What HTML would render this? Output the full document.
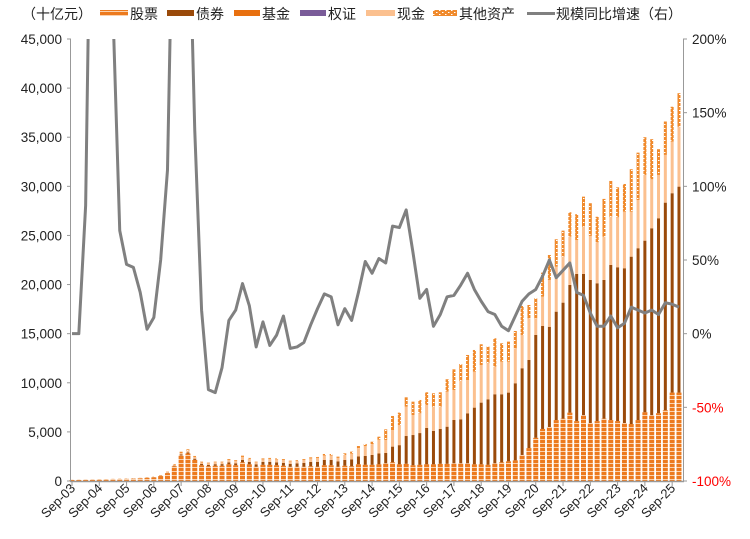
<!DOCTYPE html>
<html><head><meta charset="utf-8">
<style>
body{margin:0;background:#fff;}
svg{display:block;font-family:"Liberation Sans","Noto Sans CJK SC",sans-serif;}
</style></head>
<body>
<svg id="chart" width="750" height="539" viewBox="0 0 750 539" xmlns="http://www.w3.org/2000/svg">
<defs>
<pattern id="pStock" patternUnits="userSpaceOnUse" width="6" height="4"><rect width="6" height="4" fill="#FBD2AE"/><rect x="0" y="0" width="6" height="3" fill="#EC7A1E"/></pattern>
<pattern id="pOther" patternUnits="userSpaceOnUse" width="6" height="4"><rect width="6" height="4" fill="#F08A2C"/><rect x="1" y="2" width="1.5" height="1" fill="#fff"/><rect x="4" y="0" width="1.5" height="1" fill="#fff"/></pattern>
<clipPath id="plotClip"><rect x="70" y="39" width="614" height="443"/></clipPath>
</defs>
<g id="legend" font-size="14" fill="#222">
<text x="22" y="19">（十亿元）</text>
<g><rect x="100" y="10" width="28" height="6" fill="url(#pStock)"/><text x="130" y="19">股票</text></g>
<g><rect x="167" y="10" width="27" height="6" fill="#9A4A0A"/><text x="196" y="19">债券</text></g>
<g><rect x="234" y="10" width="26" height="6" fill="#E8700F"/><text x="262" y="19">基金</text></g>
<g><rect x="300" y="10" width="26" height="6" fill="#7A5C99"/><text x="328" y="19">权证</text></g>
<g><rect x="366" y="10" width="29" height="6" fill="#FBC08F"/><text x="397" y="19">现金</text></g>
<g><rect x="433" y="10" width="24" height="6" fill="url(#pOther)"/><text x="459" y="19">其他资产</text></g>
<g><rect x="527" y="12" width="28" height="3" fill="#808080"/><text x="556" y="19">规模同比增速（右）</text></g>
</g>
<g id="bars"></g>
<g id="line" clip-path="url(#plotClip)"></g>
<g id="axes"></g>
</svg>
<script>
const labels = ["Sep-03","Sep-04","Sep-05","Sep-06","Sep-07","Sep-08","Sep-09","Sep-10","Sep-11","Sep-12","Sep-13","Sep-14","Sep-15","Sep-16","Sep-17","Sep-18","Sep-19","Sep-20","Sep-21","Sep-22","Sep-23","Sep-24","Sep-25"];
const leftTicks = [0,5000,10000,15000,20000,25000,30000,35000,40000,45000];
const rightTicks = [-100,-50,0,50,100,150,200];
const stock = [100,110,130,140,150,170,190,200,220,240,270,320,
370,500,800,1500,2600,2800,2150,1600,
1500,1550,1550,1700,1600,1900,1700,1450,1650,1650,1600,1550,1450,1450,1450,1500,1450,1600,1600,1450,1550,1500,1700,1650,1650,1700,
1800,1900,1700,1750,1600,1650,1700,1700,1750,1750,1800,1800,1800,1700,1700,1650,1800,1900,2000,2100,2650,3350,4400,5300,5500,6200,6350,6960,6100,6700,5900,6100,6350,6200,6100,5900,5800,6200,7000,6700,6900,7200,9000,9000];
const bond = [5,5,5,5,5,5,5,10,10,10,10,15,20,30,40,60,100,110,120,130,
150,160,170,200,200,250,250,250,300,300,300,300,300,350,400,450,500,550,550,550,600,700,800,900,1000,1100,
1050,1600,1950,2830,3080,3230,3700,3400,3550,3780,4410,4480,5090,5770,6280,6670,7030,6930,7000,7850,8830,8970,10470,10480,10200,11040,11810,13000,14980,14380,14570,14030,14120,15800,15660,15760,17040,17500,17470,19030,19850,21140,20300,20970];
const cash = [5,5,5,5,10,10,10,10,10,10,15,20,20,30,60,100,150,180,180,150,
150,200,180,250,250,300,300,200,250,300,300,300,250,250,300,350,400,450,450,350,500,600,850,1000,1100,1400,
1330,1690,2050,2990,2040,2010,2340,2470,2270,3570,3060,3920,3390,3660,3830,3670,2810,3320,3150,3560,3390,4250,1700,2990,4770,4580,4680,4920,3460,4820,4480,4170,4410,4900,5090,5760,4580,4910,6690,4990,4410,4860,5250,6110];
const other = [10,10,10,10,15,15,15,20,20,20,25,25,30,40,50,70,130,140,100,90,
70,60,70,90,80,130,100,70,100,100,100,90,70,80,90,110,100,150,150,130,170,190,210,220,250,310,
1080,1430,1260,950,1360,1360,1290,1360,1460,1260,2100,1710,2550,2210,2110,1690,2890,1870,2040,1760,2950,1350,2030,2440,2540,2790,2650,2480,2620,3050,3330,2600,3840,3650,3050,2820,4320,4820,3840,4080,2620,3400,3550,3400];
const growth = [0,0,87,400,420,380,220,70,47,45,28,3,11,50,111,350,400,320,138,16,
-38,-40,-23,9,16,34,19,-9,8,-8,-1,12,-10,-9,-6,6,17,27,25,6,17,9,28,49,41,51,
48,73,72,84,55,24,30,5,13,25,26,33,41,30,22,15,13,5,2,12,22,27,30,39,50,38,43,48,28,26,14,5,5,12,4,7,18,16,14,16,13,21,20,18];

const NS="http://www.w3.org/2000/svg";
const X0=72, DX=6.82, YB=481, YT=39;
const xPos = i => X0 + i*DX;
const yL = v => YB - v/45000*(YB-YT);
const yR = p => YB - (p+100)/300*(YB-YT);
function mk(tag, attrs, parent){const e=document.createElementNS(NS,tag);for(const k in attrs)e.setAttribute(k,attrs[k]);parent.appendChild(e);return e;}
const bars=document.getElementById('bars');
const series=[[stock,'url(#pStock)',5,'stock'],[bond,'#9A4A0A',3,'bond'],[cash,'#FBC08F',3,'cash'],[other,'url(#pOther)',3,'other']];
for(let i=0;i<stock.length;i++){
  let base=0;
  for(const [arr,fill,w,nm] of series){
    const v=arr[i];
    const y1=yL(base+v), y0=yL(base);
    const r=mk('rect',{x:(xPos(i)-w/2).toFixed(2),y:y1.toFixed(2),width:w,height:Math.max(0,y0-y1).toFixed(2),fill:fill},bars);
    
    
    base+=v;
  }
}
const pts=growth.map((p,i)=>xPos(i).toFixed(2)+','+yR(p).toFixed(2)).join(' ');
const pl=mk('polyline',{points:pts,fill:'none',stroke:'#808080','stroke-width':3,'stroke-linejoin':'round'},document.getElementById('line'));


const ax=document.getElementById('axes');
mk('line',{x1:70.5,y1:YT,x2:70.5,y2:YB,stroke:'#999','stroke-width':1},ax);
mk('line',{x1:683.5,y1:YT,x2:683.5,y2:YB,stroke:'#999','stroke-width':1},ax);
mk('line',{x1:70,y1:481.5,x2:684,y2:481.5,stroke:'#999','stroke-width':1.5},ax);
leftTicks.forEach(v=>{
  const y=yL(v);
  mk('line',{x1:67,y1:y,x2:71,y2:y,stroke:'#999'},ax);
  const t=mk('text',{x:62,y:y+5,'text-anchor':'end','font-size':13.5,fill:'#222'},ax);
  t.textContent=v.toLocaleString('en-US');
  
  
});
rightTicks.forEach(p=>{
  const y=yR(p);
  mk('line',{x1:683,y1:y,x2:687,y2:y,stroke:'#999'},ax);
  const t=mk('text',{x:692,y:y+5,'font-size':13.5,fill:p<0?'#FF0000':'#222'},ax);
  t.textContent=p+'%';
  
  
});
labels.forEach((lb,k)=>{
  const x=xPos(k*4);
  mk('line',{x1:x,y1:481,x2:x,y2:486,stroke:'#999'},ax);
  const t=mk('text',{x:x+4,y:489,'text-anchor':'end','font-size':13,fill:'#222',transform:'rotate(-45 '+(x+4)+' 489)'},ax);
  t.textContent=lb;
  
  
});
</script>
</body></html>
